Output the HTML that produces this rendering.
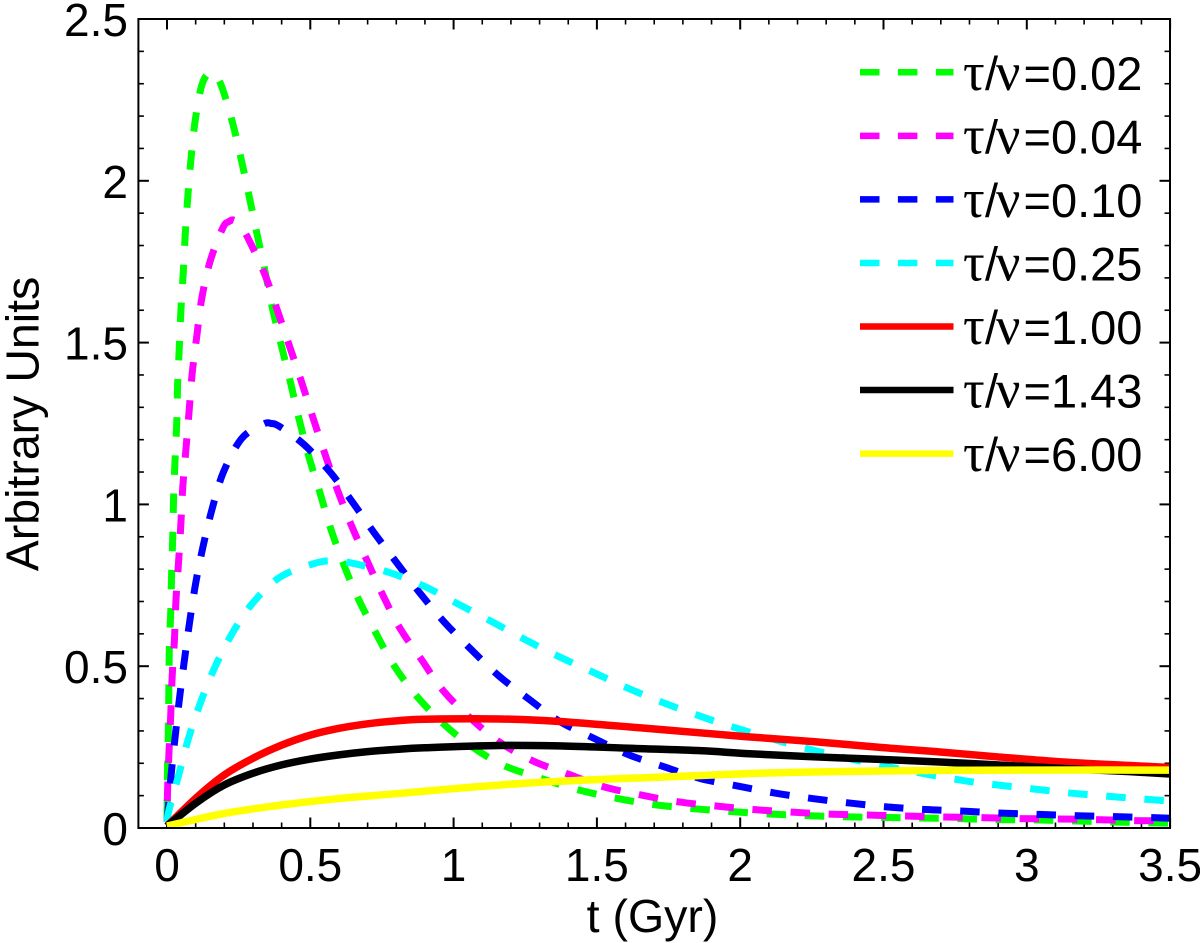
<!DOCTYPE html>
<html lang="en">
<head>
<meta charset="utf-8">
<title>Arbitrary Units vs t (Gyr)</title>
<style>
html,body{margin:0;padding:0;background:#fff;}
svg{display:block;}
text{font-family:"Liberation Sans",sans-serif;fill:#000;}
</style>
</head>
<body>
<svg id="chart" xmlns="http://www.w3.org/2000/svg" width="1200" height="943" viewBox="0 0 1200 943">
  <defs><clipPath id="plot-clip"><rect x="138.4" y="19" width="1031.6" height="809"></rect></clipPath></defs>
  <g id="ticks"></g>
  <g id="tick-labels"></g>
  <g id="series" clip-path="url(#plot-clip)"></g>
  <rect x="138.4" y="19" width="1031.6" height="809" fill="none" stroke="#000" stroke-width="2"></rect>
  <g id="legend"></g>
  <text x="652.5" y="932" font-size="46.5" text-anchor="middle">t (Gyr)</text>
  <text transform="translate(38.5 424) rotate(-90)" font-size="46.5" text-anchor="middle">Arbitrary Units</text>
</svg>
<script>
const xTicks = ['0','0.5','1','1.5','2','2.5','3','3.5'];
const yTicks = ['0','0.5','1','1.5','2','2.5'];
const seriesLabels = ['0.02','0.04','0.10','0.25','1.00','1.43','6.00'];
const seriesColors = ['#00ff00','#ff00ff','#0000ff','#00ffff','#ff0000','#000000','#ffff00'];
const seriesDashed = [true,true,true,true,false,false,false];

const t002 = [0,0.002,0.005,0.008,0.013,0.016,0.02,0.023,0.028,0.034,0.037,0.043,0.049,0.057,0.064,0.073,0.084,0.099,0.123,0.155,0.187,0.227,0.258,0.286,0.313,0.34,0.367,0.40,0.429,0.459,0.495,0.531,0.569,0.614,0.665,0.726,0.79,0.868,0.962,1.064,1.176,1.299,1.426,1.555,1.685,1.819,1.95,2.083,2.215,2.348,2.48,2.612,2.76,2.895,3.025,3.16,3.29,3.42,3.5];
const v002 = [0.02,0.19,0.31,0.55,0.667,0.785,0.90,1.02,1.135,1.252,1.369,1.487,1.607,1.72,1.84,1.955,2.07,2.19,2.30,2.335,2.30,2.185,2.07,1.955,1.84,1.73,1.61,1.487,1.384,1.27,1.147,1.044,0.931,0.82,0.713,0.607,0.505,0.411,0.324,0.251,0.193,0.155,0.12,0.094,0.074,0.061,0.052,0.044,0.039,0.035,0.033,0.031,0.029,0.026,0.025,0.022,0.019,0.016,0.015];

const t004 = [0,0.002,0.007,0.013,0.018,0.026,0.031,0.04,0.048,0.055,0.066,0.077,0.088,0.104,0.121,0.15,0.194,0.214,0.235,0.26,0.286,0.342,0.385,0.429,0.47,0.51,0.551,0.595,0.644,0.697,0.753,0.813,0.889,0.964,1.057,1.158,1.275,1.398,1.522,1.653,1.784,1.916,2.046,2.18,2.311,2.444,2.577,2.709,2.843,2.974,3.106,3.24,3.37,3.5];
const v004 = [0.02,0.117,0.236,0.349,0.468,0.583,0.70,0.817,0.934,1.053,1.17,1.287,1.406,1.52,1.635,1.75,1.853,1.873,1.878,1.855,1.817,1.709,1.60,1.485,1.377,1.266,1.156,1.044,0.934,0.828,0.72,0.617,0.519,0.424,0.341,0.267,0.208,0.167,0.128,0.102,0.081,0.068,0.057,0.049,0.043,0.04,0.037,0.034,0.032,0.029,0.028,0.026,0.023,0.022];

const t010 = [0,0.005,0.016,0.03,0.045,0.062,0.08,0.101,0.127,0.158,0.197,0.261,0.336,0.365,0.394,0.478,0.569,0.648,0.723,0.804,0.886,0.97,1.063,1.158,1.263,1.369,1.49,1.612,1.735,1.86,1.99,2.121,2.252,2.383,2.515,2.647,2.778,2.912,3.043,3.176,3.31,3.441,3.5];
const v010 = [0.02,0.066,0.179,0.295,0.411,0.527,0.643,0.761,0.875,0.988,1.10,1.204,1.248,1.25,1.24,1.185,1.10,1.006,0.912,0.817,0.722,0.634,0.55,0.47,0.398,0.33,0.277,0.226,0.189,0.153,0.13,0.108,0.091,0.077,0.065,0.057,0.052,0.046,0.042,0.038,0.035,0.032,0.03];

const t025 = [0,0.007,0.04,0.074,0.115,0.165,0.226,0.298,0.394,0.516,0.586,0.648,0.778,0.90,1.016,1.135,1.25,1.369,1.49,1.611,1.732,1.856,1.982,2.238,2.494,2.755,2.887,3.019,3.151,3.282,3.415,3.5];
const v025 = [0.02,0.056,0.161,0.274,0.383,0.493,0.599,0.694,0.775,0.818,0.826,0.818,0.789,0.746,0.692,0.637,0.582,0.529,0.48,0.431,0.387,0.347,0.31,0.244,0.193,0.15,0.134,0.121,0.108,0.098,0.089,0.083];

const t100 = [0,0.104,0.2,0.299,0.4,0.5,0.6,0.7,0.8,0.9,1.162,1.336,1.534,1.743,2.023,2.255,2.488,2.697,2.895,3.127,3.36,3.5];
const v100 = [0.006,0.095,0.164,0.215,0.256,0.287,0.308,0.322,0.331,0.336,0.337,0.331,0.318,0.303,0.282,0.267,0.249,0.235,0.22,0.204,0.193,0.187];

const t143 = [0,0.104,0.2,0.299,0.4,0.5,0.6,0.7,0.8,0.9,1.162,1.395,1.627,1.86,2.023,2.255,2.488,2.697,2.895,3.127,3.36,3.5];
const v143 = [0.006,0.079,0.133,0.169,0.195,0.213,0.226,0.236,0.243,0.248,0.255,0.253,0.246,0.239,0.23,0.22,0.212,0.204,0.195,0.184,0.174,0.167];

const t600 = [0,0.2,0.4,0.6,0.8,1.046,1.278,1.511,1.743,2.023,2.255,2.488,2.697,3.0,3.5];
const v600 = [0.006,0.045,0.071,0.091,0.106,0.125,0.14,0.15,0.158,0.168,0.173,0.176,0.178,0.179,0.179];

const seriesT = [t002,t004,t010,t025,t100,t143,t600];
const seriesV = [v002,v004,v010,v025,v100,v143,v600];
const dashPhase = [-3,17.7,0,0,0,0,0];

const NS = 'http://www.w3.org/2000/svg';
const X0 = 167, XS = 286.6, Y0 = 828, YS = 323.6;
function xScale(t){ return X0 + t * XS; }
function yScale(v){ return Y0 - v * YS; }
function make(tag, attrs, parent){
  const el = document.createElementNS(NS, tag);
  for (const k in attrs) el.setAttribute(k, attrs[k]);
  parent.appendChild(el);
  return el;
}
function smoothPath(ts, vs){
  const p = ts.map((t, i) => [xScale(t), yScale(vs[i])]);
  let d = 'M' + p[0][0].toFixed(2) + ' ' + p[0][1].toFixed(2);
  for (let i = 0; i < p.length - 1; i++){
    const a = p[Math.max(i - 1, 0)], b = p[i], c = p[i + 1], e = p[Math.min(i + 2, p.length - 1)];
    const c1x = b[0] + (c[0] - a[0]) / 6, c1y = b[1] + (c[1] - a[1]) / 6;
    const c2x = c[0] - (e[0] - b[0]) / 6, c2y = c[1] - (e[1] - b[1]) / 6;
    d += 'C' + c1x.toFixed(2) + ' ' + c1y.toFixed(2) + ' ' + c2x.toFixed(2) + ' ' + c2y.toFixed(2) + ' ' + c[0].toFixed(2) + ' ' + c[1].toFixed(2);
  }
  return d;
}

const ticksG = document.getElementById('ticks');
const labelsG = document.getElementById('tick-labels');
const TOP = 19, LEFT = 138.4, RIGHT = 1170, BOTTOM = 828;

for (let i = 0; i <= 35; i++){
  const x = xScale(i / 10);
  const len = i % 5 === 0 ? 10.5 : 5.5;
  const w = i % 5 === 0 ? 2 : 1.6;
  const tb = make('line', {x1:x, x2:x, y1:BOTTOM, y2:BOTTOM - len, stroke:'#000', 'stroke-width':w}, ticksG);
  
  
  const tt = make('line', {x1:x, x2:x, y1:TOP, y2:TOP + len, stroke:'#000', 'stroke-width':w}, ticksG);
  
  
}
for (let i = 0; i <= 25; i++){
  const y = yScale(i / 10);
  const len = i % 5 === 0 ? 10.5 : 5.5;
  const w = i % 5 === 0 ? 2 : 1.6;
  const tl = make('line', {x1:LEFT, x2:LEFT + len, y1:y, y2:y, stroke:'#000', 'stroke-width':w}, ticksG);
  
  
  const tr = make('line', {x1:RIGHT, x2:RIGHT - len, y1:y, y2:y, stroke:'#000', 'stroke-width':w}, ticksG);
  
  
}
xTicks.forEach(function(s){
  const el = make('text', {x:xScale(parseFloat(s)), y:881, 'font-size':46, 'text-anchor':'middle'}, labelsG);
  el.textContent = s;
  
  
});
yTicks.forEach(function(s){
  const el = make('text', {x:128, y:yScale(parseFloat(s)) + 17, 'font-size':46, 'text-anchor':'end'}, labelsG);
  el.textContent = s;
  
  
});

const seriesG = document.getElementById('series');
seriesLabels.forEach(function(label, i){
  const attrs = {d:smoothPath(seriesT[i], seriesV[i]), fill:'none', stroke:seriesColors[i], 'stroke-width':seriesDashed[i] ? 7 : 7.5};
  if (seriesDashed[i]){
    attrs['stroke-dasharray'] = '19.5 18.7';
    attrs['stroke-dashoffset'] = dashPhase[i];
  }
  const path = make('path', attrs, seriesG);
  
  
});

const legendG = document.getElementById('legend');
seriesLabels.forEach(function(label, i){
  const y = 72.3 + i * 63.55;
  const g = make('g', {}, legendG);
  
  
  const sw = make('line', {x1:860, x2:953.5, y1:y, y2:y, stroke:seriesColors[i], 'stroke-width':6.5}, g);
  
  
  if (seriesDashed[i]) sw.setAttribute('stroke-dasharray', '19.5 18.4');
  const txt = make('text', {y:y + 17.5, 'font-size':47}, g);
  
  
  const tau = make('tspan', {x:963, 'font-family':'"Liberation Serif", serif', 'font-size':54}, txt);
  tau.textContent = 'τ';
  const slash = make('tspan', {x:985}, txt);
  slash.textContent = '/';
  const nu = make('tspan', {x:996, 'font-family':'"Liberation Serif", serif', 'font-size':54}, txt);
  nu.textContent = 'ν';
  const rest = make('tspan', {x:1023.5}, txt);
  rest.textContent = '=' + label;
});
</script>
</body>
</html>
